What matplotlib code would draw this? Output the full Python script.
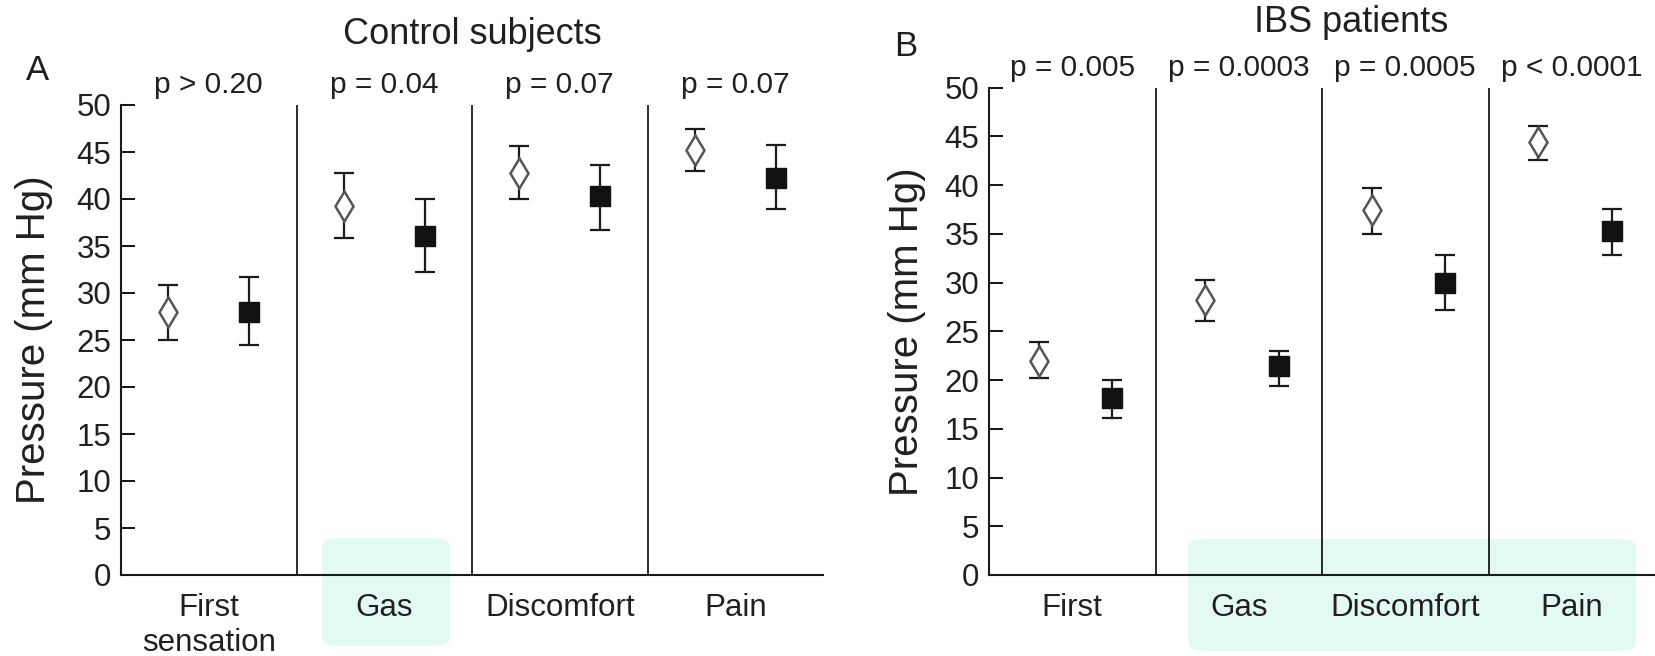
import numpy as np
import matplotlib
matplotlib.use("Agg")
import matplotlib.pyplot as plt
from matplotlib.patches import FancyBboxPatch

plt.rcParams['font.family'] = ['Liberation Sans Narrow', 'Liberation Sans', 'DejaVu Sans']

#%% Data
categories_a = ["First\nsensation", "Gas", "Discomfort", "Pain"]
categories_b = ["First", "Gas", "Discomfort", "Pain"]

# Control subjects (panel A)
ctrl_open = [28.0, 39.3, 42.8, 45.2]
ctrl_open_lo = [25.0, 35.8, 40.0, 43.0]
ctrl_open_hi = [30.9, 42.8, 45.6, 47.5]
ctrl_fill = [28.0, 36.1, 40.3, 42.2]
ctrl_fill_lo = [24.5, 32.2, 36.7, 38.9]
ctrl_fill_hi = [31.7, 40.0, 43.6, 45.7]
p_a = ["p > 0.20", "p = 0.04", "p = 0.07", "p = 0.07"]

# IBS patients (panel B)
ibs_open = [22.0, 28.2, 37.4, 44.4]
ibs_open_lo = [20.2, 26.1, 35.0, 42.6]
ibs_open_hi = [23.9, 30.3, 39.7, 46.1]
ibs_fill = [18.2, 21.4, 30.0, 35.3]
ibs_fill_lo = [16.1, 19.4, 27.2, 32.8]
ibs_fill_hi = [20.0, 23.0, 32.8, 37.5]
p_b = ["p = 0.005", "p = 0.0003", "p = 0.0005", "p < 0.0001"]

txt = '#231f20'

fig = plt.figure(figsize=(16.55, 6.56), dpi=100)

# light highlight boxes behind the labels
fig.patches.append(FancyBboxPatch((322/1655, 1-646/656), 128/1655, 108/656,
                                  boxstyle="round,pad=0,rounding_size=0.012",
                                  transform=fig.transFigure, fc='#e2faf3', ec='none', zorder=0))
fig.patches.append(FancyBboxPatch((1188/1655, 1-651/656), 448/1655, 112/656,
                                  boxstyle="round,pad=0,rounding_size=0.012",
                                  transform=fig.transFigure, fc='#e2faf3', ec='none', zorder=0))

ax_a = fig.add_axes([121/1655, 1-575/656, 702/1655, 470/656])
ax_b = fig.add_axes([989/1655, 1-575/656, 666/1655, 487.4/656])


def draw_panel(ax, cats, o, olo, ohi, f, flo, fhi, pvals, off_o, off_f, lpad):
    ax.set_zorder(2)
    ax.patch.set_alpha(0)
    x = np.arange(len(cats)) + 0.5
    o = np.asarray(o); f = np.asarray(f)
    ax.errorbar(x - off_o, o, yerr=[o - np.asarray(olo), np.asarray(ohi) - o], fmt='none',
                ecolor='#1a1a1a', elinewidth=1.6, capsize=7, capthick=1.6, zorder=2)
    ax.plot(x - off_o, o, 'd', ms=15, mfc='white', mec='#555555', mew=1.8, zorder=3)
    ax.errorbar(x + off_f, f, yerr=[f - np.asarray(flo), np.asarray(fhi) - f], fmt='none',
                ecolor='#1a1a1a', elinewidth=1.6, capsize=7, capthick=1.6, zorder=2)
    ax.plot(x + off_f, f, 's', ms=14, mfc='#111111', mec='#111111', zorder=3)
    for d in range(1, len(cats)):
        ax.axvline(d, ymin=0, ymax=1, color='#1a1a1a', lw=1.3)
    for xi, p in zip(x, pvals):
        ax.text(xi, 50.6, p, ha='center', va='bottom', fontsize=21.5, color=txt, clip_on=False)
    ax.set_xlim(0, len(cats))
    ax.set_ylim(0, 50)
    ax.set_yticks(np.arange(0, 51, 5))
    ax.set_xticks(x)
    ax.set_xticklabels(cats, fontsize=22.5, color=txt, linespacing=1.2)
    ax.tick_params(axis='x', length=0, pad=13)
    ax.tick_params(axis='y', direction='in', length=10, width=1.3, labelsize=22.5, labelcolor=txt, pad=7)
    for s in ['top', 'right']:
        ax.spines[s].set_visible(False)
    for s in ['left', 'bottom']:
        ax.spines[s].set_linewidth(1.5)
        ax.spines[s].set_color('#1a1a1a')
    ax.set_ylabel('Pressure (mm Hg)', fontsize=29, color=txt, labelpad=lpad)


draw_panel(ax_a, categories_a, ctrl_open, ctrl_open_lo, ctrl_open_hi,
           ctrl_fill, ctrl_fill_lo, ctrl_fill_hi, p_a, 0.23, 0.23, 17)
draw_panel(ax_b, categories_b, ibs_open, ibs_open_lo, ibs_open_hi,
           ibs_fill, ibs_fill_lo, ibs_fill_hi, p_b, 0.20, 0.24, 13)

fig.text(472/1655, 1-34/656, 'Control subjects', ha='center', va='center', fontsize=26, color=txt)
fig.text(1351/1655, 1-23/656, 'IBS patients', ha='center', va='center', fontsize=26, color=txt)
fig.text(37/1655, 1-71/656, 'A', ha='center', va='center', fontsize=25, color=txt)
fig.text(906/1655, 1-47/656, 'B', ha='center', va='center', fontsize=25, color=txt)

fig.savefig('out.png', dpi=100)
